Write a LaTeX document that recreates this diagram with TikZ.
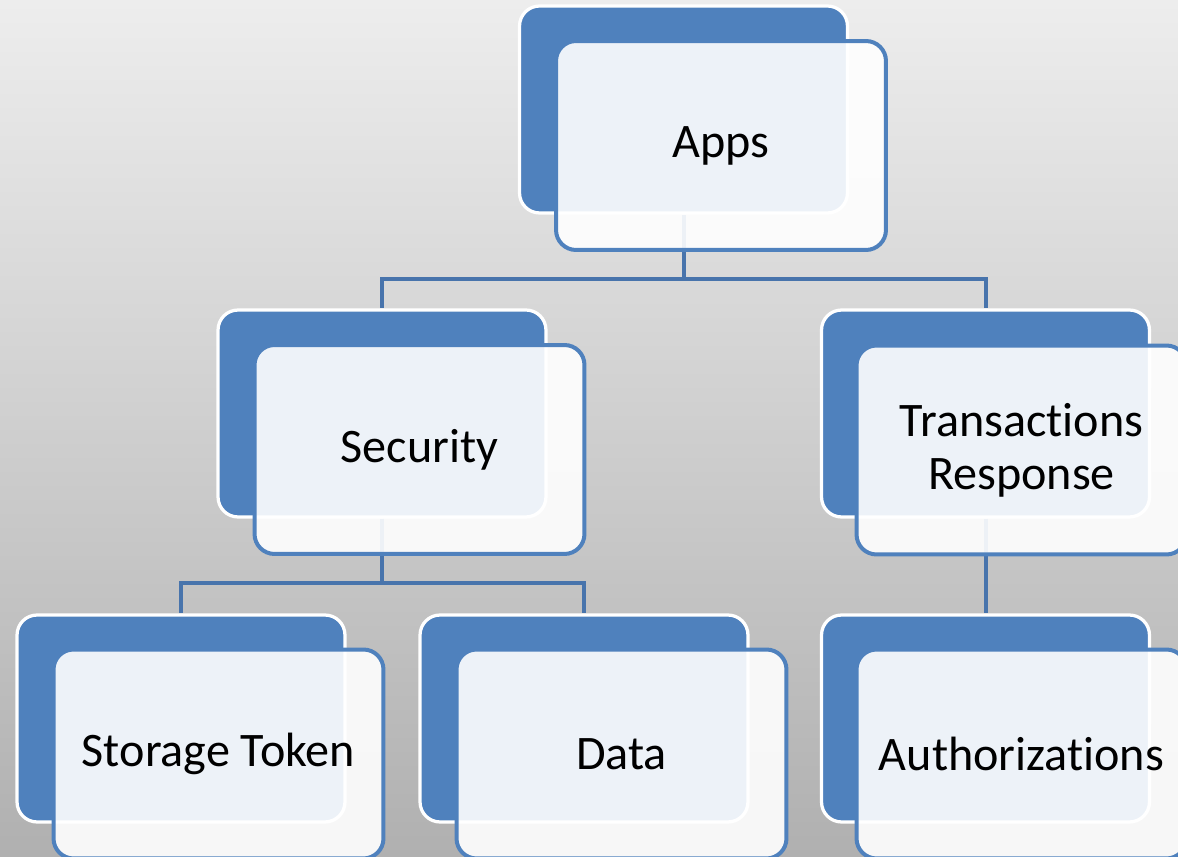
\documentclass[tikz,border=0pt]{standalone}
\usepackage{fontspec}
\setmainfont[Ligatures=NoCommon]{Carlito}
\usetikzlibrary{calc}
\pgfdeclarelayer{bg}
\pgfdeclarelayer{lines}
\pgfsetlayers{bg,lines,main}
\definecolor{boxblue}{RGB}{79,129,189}
\definecolor{linkblue}{RGB}{72,116,172}
\tikzset{
  backbox/.style={draw=white, line width=0.065cm, fill=boxblue, rounded corners=0.4cm,
    minimum width=6.56cm, minimum height=4.14cm, inner sep=0pt},
  frontbox/.style={draw=boxblue, line width=0.08cm, fill=white, fill opacity=0.9, text opacity=1,
    rounded corners=0.4cm, minimum width=6.6cm, minimum height=4.18cm, inner sep=0pt,
    align=center, font=\fontsize{27.4}{30}\selectfont},
  conn/.style={draw=linkblue, line width=0.08cm}
}
\begin{document}
\begin{tikzpicture}[x=0.02cm, y=-0.02cm]
\useasboundingbox (0,0) rectangle (1178,857);
\begin{pgfonlayer}{bg}
  \shade[top color=black!7, bottom color=black!31] (0,0) rectangle (1178,857);
\end{pgfonlayer}
\clip (0,0) rectangle (1178,857);
% back boxes
\node[backbox] (appsB) at (683.5,109.5) {};
\node[backbox] (secB)  at (382,413.5) {};
\node[backbox] (trB)   at (985.5,413.5) {};
\node[backbox] (stB)   at (181,718.5) {};
\node[backbox] (dataB) at (584,718.5) {};
\node[backbox] (authB) at (985.5,718.5) {};
% front boxes
\node[frontbox] (apps) at (721,145.5) {Apps};
\node[frontbox] (sec)  at (419.5,449.5) {Security};
\node[frontbox] (tr)   at (1021.5,450) {Transactions\\Response};
\node[frontbox] (st)   at (218.5,754) {Storage Token};
\node[frontbox] (data) at (621.5,754) {Data};
\node[frontbox] (auth) at (1021.5,754) {Authorizations};
% connectors
\begin{pgfonlayer}{lines}
  \draw[conn] (appsB.south) -- ++(0,64) -| (secB.north);
  \draw[conn] (appsB.south) -- ++(0,64) -| (trB.north);
  \draw[conn] (secB.south) -- ++(0,64) -| (stB.north);
  \draw[conn] (secB.south) -- ++(0,64) -| (dataB.north);
  \draw[conn] (trB.south) -- (authB.north);
\end{pgfonlayer}
\end{tikzpicture}
\end{document}
